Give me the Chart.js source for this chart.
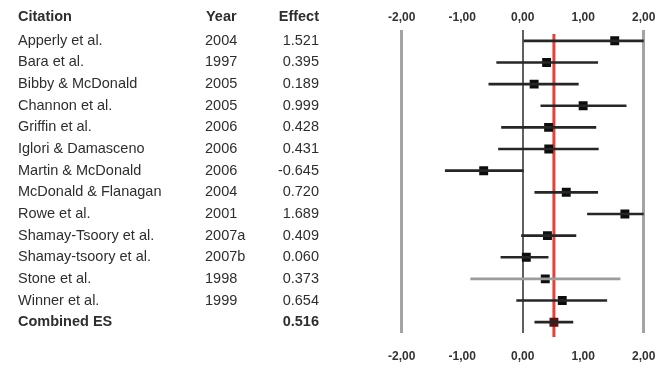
<!DOCTYPE html>
<html>
<head>
<meta charset="utf-8">
<script src="https://cdn.jsdelivr.net/npm/chart.js@4.4.1/dist/chart.umd.min.js"></script>
<style>
  html, body { margin: 0; padding: 0; background: #fff; }
  #forest { display: block; }
</style>
</head>
<body>
<canvas id="forest" width="660" height="371"></canvas>
<script>
const citations = ['Apperly et al.', 'Bara et al.', 'Bibby & McDonald', 'Channon et al.', 'Griffin et al.',
  'Iglori & Damasceno', 'Martin & McDonald', 'McDonald & Flanagan', 'Rowe et al.', 'Shamay-Tsoory et al.',
  'Shamay-tsoory et al.', 'Stone et al.', 'Winner et al.', 'Combined ES'];
const years = ['2004', '1997', '2005', '2005', '2006', '2006', '2006', '2004', '2001', '2007a', '2007b', '1998', '1999', ''];
const effects = [1.521, 0.395, 0.189, 0.999, 0.428, 0.431, -0.645, 0.720, 1.689, 0.409, 0.060, 0.373, 0.654, 0.516];
const lower = [0.02, -0.43, -0.56, 0.30, -0.35, -0.40, -1.28, 0.20, 1.07, -0.02, -0.36, -0.86, -0.10, 0.20];
const upper = [3.02, 1.24, 0.92, 1.71, 1.21, 1.25, 0.01, 1.24, 2.31, 0.88, 0.42, 1.61, 1.39, 0.83];
const xTicks = [-2, -1, 0, 1, 2];

const last = citations.length - 1;
const fontFamily = '"Liberation Sans", Arial, sans-serif';
const fmtTick = v => v.toFixed(2).replace('.', ',');
const tickVal = c => (c.tick ? c.tick.value : null);

// fixed axis height, no extra side padding for the end labels
const fitAxis = h => axis => {
  axis.height = h;
  axis.paddingLeft = 0;
  axis.paddingRight = 0;
};

// left hand table: citation / year / effect, rows follow the y scale
const tablePlugin = {
  id: 'studyTable',
  afterDraw(chart) {
    const { ctx } = chart;
    const y = chart.scales.y;
    ctx.save();
    ctx.fillStyle = '#2e2e2e';
    ctx.textBaseline = 'middle';
    ctx.font = 'bold 14.5px ' + fontFamily;
    ctx.textAlign = 'left';
    ctx.fillText('Citation', 18, 17);
    ctx.fillText('Year', 206, 17);
    ctx.textAlign = 'right';
    ctx.fillText('Effect', 319, 17);

    citations.forEach((name, i) => {
      const py = y.getPixelForValue(i);
      ctx.font = (i === last ? 'bold ' : '') + '14.5px ' + fontFamily;
      ctx.textAlign = 'left';
      ctx.fillText(name, 18, py);
      ctx.fillText(years[i], 205, py);
      ctx.textAlign = 'right';
      ctx.fillText(effects[i].toFixed(3), 319, py);
    });
    ctx.restore();
  }
};

// red line at the combined effect size
const pooledLine = {
  id: 'pooledLine',
  beforeDatasetsDraw(chart) {
    const { ctx, chartArea } = chart;
    const px = chart.scales.x.getPixelForValue(effects[last]);
    ctx.save();
    ctx.strokeStyle = '#e5413b';
    ctx.lineWidth = 3;
    ctx.beginPath();
    ctx.moveTo(px, chartArea.top + 4);
    ctx.lineTo(px, chartArea.bottom + 4);
    ctx.stroke();
    ctx.restore();
  }
};

const tickFont = { family: fontFamily, size: 12, weight: 'bold' };

new Chart(document.getElementById('forest'), {
  type: 'bar',
  data: {
    labels: citations,
    datasets: [{
      type: 'bar',
      indexAxis: 'y',
      data: lower.map((lo, i) => [lo, upper[i]]),
      backgroundColor: c => citations[c.dataIndex] === 'Stone et al.' ? '#9c9c9c' : '#262626',
      barThickness: c => citations[c.dataIndex] === 'Stone et al.' ? 3 : 2,
      borderWidth: 0
    }, {
      type: 'scatter',
      data: effects.map((e, i) => ({ x: e, y: citations[i] })),
      pointStyle: 'rect',
      pointRadius: 6.3,
      pointBorderWidth: 0,
      pointBackgroundColor: c => c.dataIndex === last ? '#5a1212' : '#0d0d0d',
      showLine: false
    }]
  },
  options: {
    indexAxis: 'y',
    responsive: false,
    animation: false,
    layout: { padding: { left: 401.7, right: 16.3, top: 0, bottom: 0 } },
    plugins: { legend: { display: false }, tooltip: { enabled: false } },
    scales: {
      y: {
        type: 'category',
        labels: citations,
        offset: true,
        display: false
      },
      x: {
        type: 'linear',
        position: 'bottom',
        offset: false,
        min: xTicks[0],
        max: xTicks[xTicks.length - 1],
        afterBuildTicks: axis => { axis.ticks = xTicks.map(v => ({ value: v })); },
        afterFit: fitAxis(38),
        border: { display: false },
        grid: {
          offset: false,
          drawTicks: false,
          color: c => {
            const v = tickVal(c);
            return v === 0 ? '#606060' : (v === 2 || v === -2 ? '#a3a3a3' : 'rgba(0,0,0,0)');
          },
          lineWidth: c => tickVal(c) === 0 ? 2 : 3
        },
        ticks: { padding: 16, font: tickFont, color: '#333', maxRotation: 0, callback: v => fmtTick(v) }
      },
      xTop: {
        type: 'linear',
        position: 'top',
        offset: false,
        min: xTicks[0],
        max: xTicks[xTicks.length - 1],
        afterBuildTicks: axis => { axis.ticks = xTicks.map(v => ({ value: v })); },
        afterFit: fitAxis(30),
        border: { display: false },
        grid: { display: false, offset: false, drawTicks: false },
        ticks: { padding: 5, font: tickFont, color: '#333', maxRotation: 0, callback: v => fmtTick(v) }
      }
    }
  },
  plugins: [pooledLine, tablePlugin]
});
</script>
</body>
</html>
